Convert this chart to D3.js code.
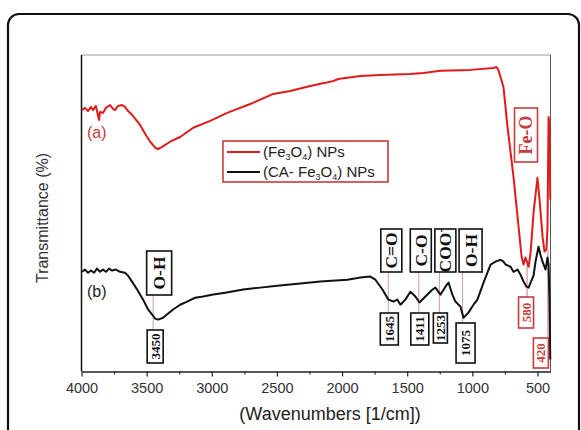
<!DOCTYPE html>
<html>
<head>
<meta charset="utf-8">
<script src="https://cdn.jsdelivr.net/npm/d3@7"></script>
<style>
  html, body { margin: 0; padding: 0; background: #fff; }
  svg { display: block; }
</style>
</head>
<body>
<svg id="chart" width="581" height="430"></svg>
<script>
// ---------------- DATA ----------------
const xTicks = [4000, 3500, 3000, 2500, 2000, 1500, 1000, 500];
const xMinorTicks = [3750, 3250, 2750, 2250, 1750, 1250, 750];

// Curve (a) Fe3O4 NPs : [wavenumber, transmittance (a.u.)]
const seriesA = [
  [3996,82.6],[3973,83.3],[3950,82.3],[3927,83.6],[3912,82.6],[3889,83.9],[3873,80.8],[3865,79.5],
  [3858,82.0],[3835,81.7],[3812,83.3],[3781,84.2],[3758,83.0],[3743,82.6],[3720,83.9],[3689,84.2],
  [3666,83.6],[3650,82.6],[3612,81.1],[3550,77.9],[3512,75.1],[3473,72.6],[3435,70.7],[3412,70.3],
  [3381,71.0],[3320,72.6],[3243,74.1],[3143,77.0],[3012,79.2],[2882,81.7],[2705,84.5],[2528,87.7],
  [2398,88.6],[2244,90.2],[2129,91.2],[2067,91.8],[2029,92.4],[1975,92.7],[1860,93.4],[1706,93.7],
  [1476,94.0],[1375,94.3],[1245,95.0],[1014,95.3],[838,95.9],[815,96.2],[800,95.3],[784,93.1],
  [761,89.9],[730,77.3],[684,61.5],[645,45.7],[622,36.3],[607,33.8],[592,36.0],[568,33.1],
  [553,37.5],[530,50.2],[515,55.8],[500,61.2],[484,54.3],[461,42.6],[446,37.9],[431,38.6],
  [423,45.7],[415,80.4],[408,77.9],[402,54.3]
];

// Curve (b) CA-Fe3O4 NPs
const seriesB = [
  [3996,31.5],[3973,32.2],[3950,31.2],[3927,31.9],[3904,31.2],[3881,32.5],[3858,31.5],[3835,32.2],
  [3812,31.5],[3789,32.5],[3766,31.9],[3735,32.2],[3704,31.5],[3666,31.2],[3643,30.3],[3612,28.4],
  [3573,25.9],[3527,22.7],[3489,19.6],[3458,18.0],[3435,16.7],[3412,16.4],[3374,17.0],[3335,18.3],
  [3297,19.6],[3243,21.1],[3189,22.1],[3128,23.3],[3066,23.7],[2989,24.3],[2897,24.9],[2759,25.9],
  [2628,26.5],[2497,27.1],[2321,27.8],[2167,28.4],[1959,29.0],[1859,29.7],[1783,30.0],[1744,29.0],
  [1690,25.9],[1644,22.7],[1606,22.1],[1575,22.7],[1552,21.1],[1514,22.7],[1475,25.2],[1437,23.7],
  [1406,21.8],[1360,23.7],[1306,25.9],[1283,26.5],[1245,24.3],[1206,26.8],[1183,28.1],[1153,24.3],
  [1130,22.1],[1091,20.5],[1068,17.0],[1030,18.6],[991,21.1],[961,22.7],[914,28.1],[860,33.8],
  [822,34.7],[784,35.3],[761,34.7],[745,33.8],[707,33.1],[684,31.5],[653,32.2],[630,30.6],
  [607,28.4],[584,26.8],[568,26.5],[553,28.1],[530,30.3],[515,34.7],[492,39.4],[477,36.9],
  [461,34.7],[438,32.2],[423,36.0],[415,33.8],[408,22.7],[402,3.8]
];

const seriesNames = ["(Fe3O4) NPs", "(CA- Fe3O4) NPs"];
const bondLabels = ["O-H", "C=O", "C-O", "COO", "O-H"];
const bondWavenumbers = [3450, 1645, 1411, 1253, 1075];
const feLabel = "Fe-O";
const feWavenumbers = [580, 420];

// ---------------- LAYOUT ----------------
const svg = d3.select("#chart");
const L = 81.5, R = 550.5, T = 55, B = 371.5;
const RED = "#e01b1b", RED_TXT = "#c93a3a", LINK = "#d99a9a";

const x = d3.scaleLinear().domain([4000, 400]).range([L, R]);
const y = d3.scaleLinear().domain([0, 100]).range([B, T]);

// outer rounded frame
svg.append("rect").attr("x", 8).attr("y", 14).attr("width", 571).attr("height", 450)
  .attr("rx", 11).attr("fill", "none").attr("stroke", "#111").attr("stroke-width", 2.2);

// plot frame
svg.append("line").attr("x1", L).attr("x2", R).attr("y1", T).attr("y2", T).attr("stroke", "#999").attr("stroke-width", 1);
svg.append("line").attr("x1", R).attr("x2", R).attr("y1", T).attr("y2", B).attr("stroke", "#555").attr("stroke-width", 1);
svg.append("line").attr("x1", L).attr("x2", L).attr("y1", T).attr("y2", B).attr("stroke", "#111").attr("stroke-width", 1.5);

// axes
const gx = svg.append("g").attr("transform", `translate(0,${B})`)
  .call(d3.axisBottom(x).tickValues(xTicks).tickFormat(d3.format("d"))
    .tickSize(5).tickPadding(6).tickSizeOuter(0));
gx.select(".domain").attr("stroke", "#222").attr("stroke-width", 1.3);
gx.selectAll(".tick line").attr("stroke", "#222").attr("stroke-width", 1.2);
gx.selectAll(".tick text").attr("font-family", "Liberation Sans, Arial, sans-serif")
  .attr("font-size", 14.5).attr("fill", "#333");
const gm = svg.append("g").attr("transform", `translate(0,${B})`)
  .call(d3.axisBottom(x).tickValues(xMinorTicks).tickSize(3).tickFormat(""));
gm.select(".domain").remove();
gm.selectAll(".tick line").attr("stroke", "#222").attr("stroke-width", 1.1);

// axis titles
svg.append("text").attr("x", 330).attr("y", 420).attr("text-anchor", "middle")
  .attr("font-family", "Liberation Sans, Arial, sans-serif").attr("font-size", 18).attr("fill", "#222")
  .text("(Wavenumbers [1/cm])");
svg.append("text").attr("transform", "translate(48,218) rotate(-90)").attr("text-anchor", "middle")
  .attr("font-family", "Liberation Sans, Arial, sans-serif").attr("font-size", 16).attr("fill", "#333")
  .text("Transmittance (%)");

// connector lines (drawn under curves & boxes)
const links = svg.append("g").attr("stroke", LINK).attr("stroke-width", 1);
const bondTopBottom = [295, 272, 272, 272, 272];
const numTop = [330, 313, 313, 313, 323];
bondWavenumbers.forEach((w, i) => {
  links.append("line").attr("x1", x(w)).attr("x2", x(w)).attr("y1", bondTopBottom[i]).attr("y2", numTop[i]);
});
const feLinkTop = [265, 250], feNumTop = [297, 338];
feWavenumbers.forEach((w, i) => {
  links.append("line").attr("x1", x(w)).attr("x2", x(w)).attr("y1", feLinkTop[i]).attr("y2", feNumTop[i])
    .attr("stroke", "#c98080");
});

// curves
const line = d3.line().x(d => x(d[0])).y(d => y(d[1])).curve(d3.curveLinear);
svg.append("path").datum(seriesA).attr("d", line).attr("fill", "none")
  .attr("stroke", RED).attr("stroke-width", 2).attr("stroke-linejoin", "round");
svg.append("path").datum(seriesB).attr("d", line).attr("fill", "none")
  .attr("stroke", "#111").attr("stroke-width", 2).attr("stroke-linejoin", "round");

// curve tags
svg.append("text").attr("x", 87).attr("y", 138).attr("font-family", "Liberation Sans, Arial, sans-serif")
  .attr("font-size", 16).attr("fill", RED_TXT).text("(a)");
svg.append("text").attr("x", 87).attr("y", 297).attr("font-family", "Liberation Sans, Arial, sans-serif")
  .attr("font-size", 16).attr("fill", "#222").text("(b)");

// rotated boxed label helper
function boxLabel(cx, y0, y1, w, txt, size, color, sup) {
  const g = svg.append("g");
  g.append("rect").attr("x", cx - w / 2).attr("y", y0).attr("width", w).attr("height", y1 - y0)
    .attr("fill", "#fff").attr("stroke", color).attr("stroke-width", 1.6);
  const t = g.append("text").attr("transform", `translate(${cx},${(y0 + y1) / 2}) rotate(-90)`)
    .attr("text-anchor", "middle").attr("dy", "0.35em")
    .attr("font-family", "Liberation Serif, Times New Roman, serif").attr("font-weight", "bold")
    .attr("font-size", size).attr("fill", color);
  t.append("tspan").text(txt);
  if (sup) t.append("tspan").attr("dy", "-0.5em").attr("font-size", size * 0.7).text(sup);
}

// bond labels
const bondDx = [6, 3, 2, 6, 8];
const bondTop = [251, 229, 229, 229, 229];
const bondW = [25, 21, 21, 21, 23];
bondLabels.forEach((b, i) => {
  boxLabel(x(bondWavenumbers[i]) + bondDx[i], bondTop[i], bondTopBottom[i], bondW[i], b, 17.5, "#111",
    b === "COO" ? "-" : null);
});
// wavenumber labels
const numBottom = [363, 345, 345, 343, 363];
const numDx = [2, 1, 1, 1, 3];
const numW = [16, 18, 18, 14, 19];
bondWavenumbers.forEach((w, i) => {
  boxLabel(x(w) + numDx[i], numTop[i], numBottom[i], numW[i], String(w), 13, "#111");
});
// Fe-O
boxLabel(526, 108, 162, 23, feLabel, 18, RED_TXT);
const feNumBottom = [328, 368];
const feDx = [-1, -7];
feWavenumbers.forEach((w, i) => {
  boxLabel(x(w) + feDx[i], feNumTop[i], feNumBottom[i], 15, String(w), 13, RED_TXT);
});

// legend
const lg = svg.append("g");
lg.append("rect").attr("x", 223).attr("y", 141).attr("width", 165).attr("height", 41)
  .attr("fill", "#fff").attr("stroke", RED_TXT).attr("stroke-width", 1.6);
const legColors = [RED, "#111"];
seriesNames.forEach((n, i) => {
  const yy = 152 + i * 20;
  lg.append("line").attr("x1", 227).attr("x2", 260).attr("y1", yy).attr("y2", yy)
    .attr("stroke", legColors[i]).attr("stroke-width", 2);
  const t = lg.append("text").attr("x", 263)
    .attr("font-family", "Liberation Sans, Arial, sans-serif").attr("font-size", 15).attr("fill", "#222");
  const base = yy + 5;
  const pieces = [];
  n.split(/(Fe3O4)/).forEach(p => {
    if (p === "Fe3O4") {
      pieces.push(["Fe", 0], ["3", 1], ["O", 0], ["4", 1]);
    } else if (p.length) {
      pieces.push([p, 0]);
    }
  });
  pieces.forEach(([s, sub]) => {
    t.append("tspan").attr("y", sub ? base + 3 : base).attr("font-size", sub ? 9 : 15).text(s);
  });
});
</script>
</body>
</html>
